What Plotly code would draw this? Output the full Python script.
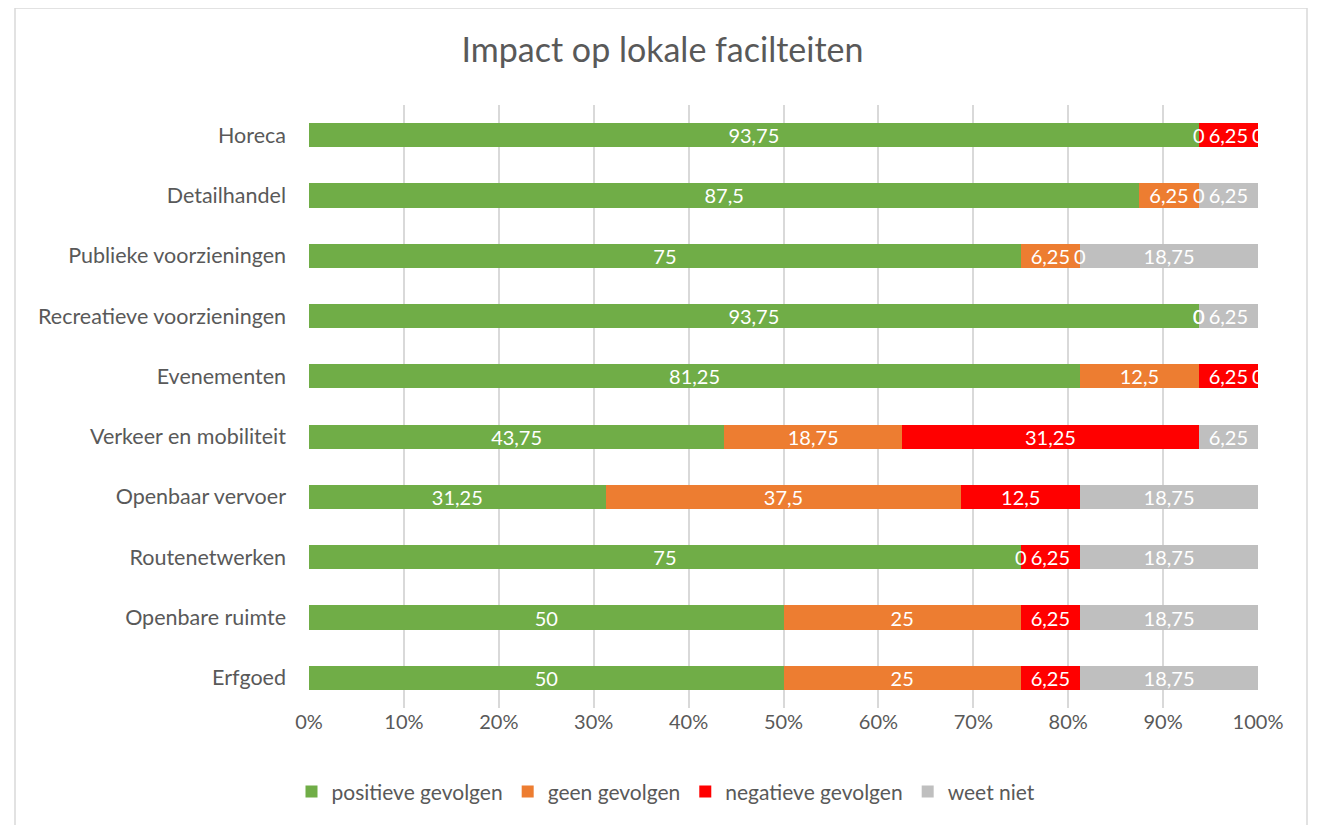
import plotly.graph_objects as go

categories = ["Horeca", "Detailhandel", "Publieke voorzieningen", "Recreatieve voorzieningen",
              "Evenementen", "Verkeer en mobiliteit", "Openbaar vervoer", "Routenetwerken",
              "Openbare ruimte", "Erfgoed"]

positief = [93.75, 87.5, 75, 93.75, 81.25, 43.75, 31.25, 75, 50, 50]
geen = [0, 6.25, 6.25, 0, 12.5, 18.75, 37.5, 0, 25, 25]
negatief = [6.25, 0, 0, 0, 6.25, 31.25, 12.5, 6.25, 6.25, 6.25]
weet_niet = [0, 6.25, 18.75, 6.25, 0, 6.25, 18.75, 18.75, 18.75, 18.75]

series = [
    ("positieve gevolgen", positief, "#70AD47"),
    ("geen gevolgen", geen, "#ED7D31"),
    ("negatieve gevolgen", negatief, "#FF0000"),
    ("weet niet", weet_niet, "#BFBFBF"),
]

FONT = "Lato, 'Open Sans', sans-serif"
GREY = "#595959"


def fmt(v):
    return f"{v:g}".replace(".", ",")


fig = go.Figure()
annotations = []
cum = [0] * len(categories)
for name, vals, color in series:
    fig.add_trace(go.Bar(
        y=categories, x=vals, name=name, orientation="h",
        marker=dict(color=color, line=dict(width=0)),
        text=[fmt(v) if v else "" for v in vals],
        textposition="inside", insidetextanchor="middle", textangle=0,
        constraintext="none",
        textfont=dict(color="white", size=20, family=FONT),
        hoverinfo="x+y+name",
    ))
    # Excel shows "0" labels for empty segments
    for i, v in enumerate(vals):
        if v == 0:
            annotations.append(dict(x=cum[i], y=categories[i], xref="x", yref="y",
                                    text="0", showarrow=False,
                                    font=dict(color="white", size=20, family=FONT)))
        cum[i] += v

# page body has an 8px margin, so the figure is a bit smaller than the window
W, H = 1309, 817
fig.update_layout(
    barmode="stack",
    bargap=0.6,
    width=W, height=H,
    paper_bgcolor="white", plot_bgcolor="white",
    margin=dict(l=301, r=59, t=97, b=117),
    title=dict(text="Impact op lokale facilteiten", x=0.5, xanchor="center",
               y=1 - 42 / H, yanchor="middle",
               font=dict(size=34, color=GREY, family=FONT)),
    font=dict(family=FONT, color=GREY, size=20),
    xaxis=dict(range=[0, 100], dtick=10, ticksuffix="%", showgrid=True,
               gridcolor="#D9D9D9", gridwidth=1.5, zeroline=False,
               tickfont=dict(size=20, color=GREY), ticks="", fixedrange=True),
    yaxis=dict(autorange="reversed", showgrid=False, ticks="", ticklabelstandoff=22,
               tickfont=dict(size=21.5, color=GREY)),
    legend=dict(orientation="h", x=(658 - 301) / 949, xanchor="center", y=-0.139,
                yanchor="middle", font=dict(size=21, color=GREY),
                traceorder="normal", itemwidth=30),
    annotations=annotations,
    shapes=[dict(type="rect", xref="paper", yref="paper",
                 x0=(7 - 301) / 949, x1=(1299 - 301) / 949,
                 y0=-0.25, y1=1 + 97 / 603,
                 line=dict(color="#D9D9D9", width=1.5), fillcolor="rgba(0,0,0,0)",
                 layer="below")],
)

fig.write_html("out.html")
